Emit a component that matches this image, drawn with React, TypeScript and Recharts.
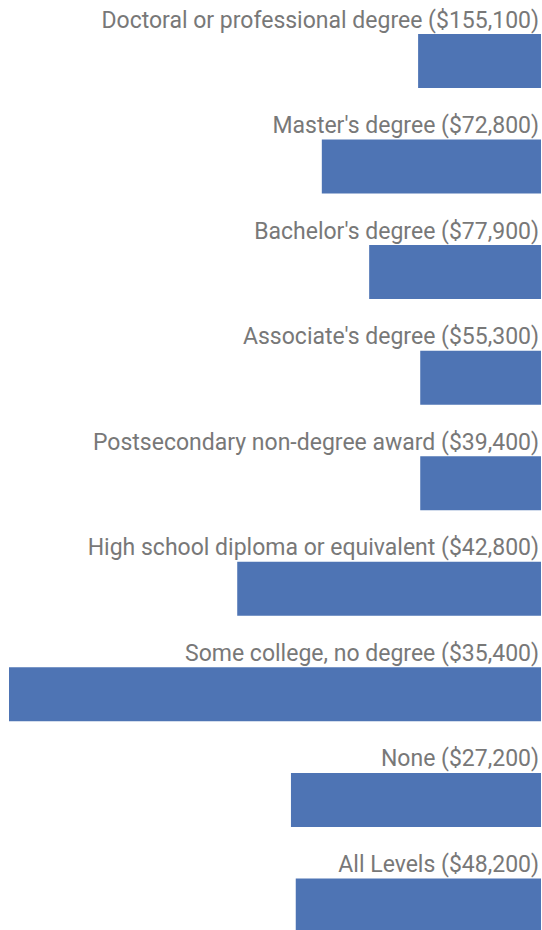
import { BarChart, Bar, XAxis, YAxis, LabelList } from 'recharts';

const LEVELS = [
  'Doctoral or professional degree',
  "Master's degree",
  "Bachelor's degree",
  "Associate's degree",
  'Postsecondary non-degree award',
  'High school diploma or equivalent',
  'Some college, no degree',
  'None',
  'All Levels',
];
const WAGES = ['$155,100', '$72,800', '$77,900', '$55,300', '$39,400', '$42,800', '$35,400', '$27,200', '$48,200'];
// relative bar length (share of largest group, %)
const SHARES = [23.1, 41.2, 32.3, 22.7, 22.7, 57.1, 100, 47.0, 46.1];

const BAR_COLOR = '#4e74b4';
const TEXT_COLOR = '#787878';

const data = LEVELS.map((name, i) => ({ name, label: `${name} (${WAGES[i]})`, share: SHARES[i] }));

function TopLabel(props: any) {
  const { x, y, width, value } = props;
  // reversed axis: bar's right edge is x (or x + width depending on sign)
  const right = Math.max(x, x + width);
  return (
    <text x={right - 2} y={y - 6.5} textAnchor="end" fill={TEXT_COLOR} fontSize={23} fontFamily="Roboto, sans-serif">
      {value}
    </text>
  );
}

export default function App() {
  return (
    <div style={{ position: 'absolute', left: 0, top: 0, width: 542, height: 930, overflow: 'hidden', background: '#fff' }}>
      <BarChart
        width={542}
        height={958}
        data={data}
        layout="vertical"
        margin={{ top: 8, right: 1, bottom: 0, left: 9 }}
      >
        <XAxis type="number" dataKey="share" domain={[0, 100]} reversed hide />
        <YAxis type="category" dataKey="name" hide />
        <Bar dataKey="share" fill={BAR_COLOR} barSize={54} isAnimationActive={false}>
          <LabelList dataKey="label" content={TopLabel} />
        </Bar>
      </BarChart>
    </div>
  );
}
